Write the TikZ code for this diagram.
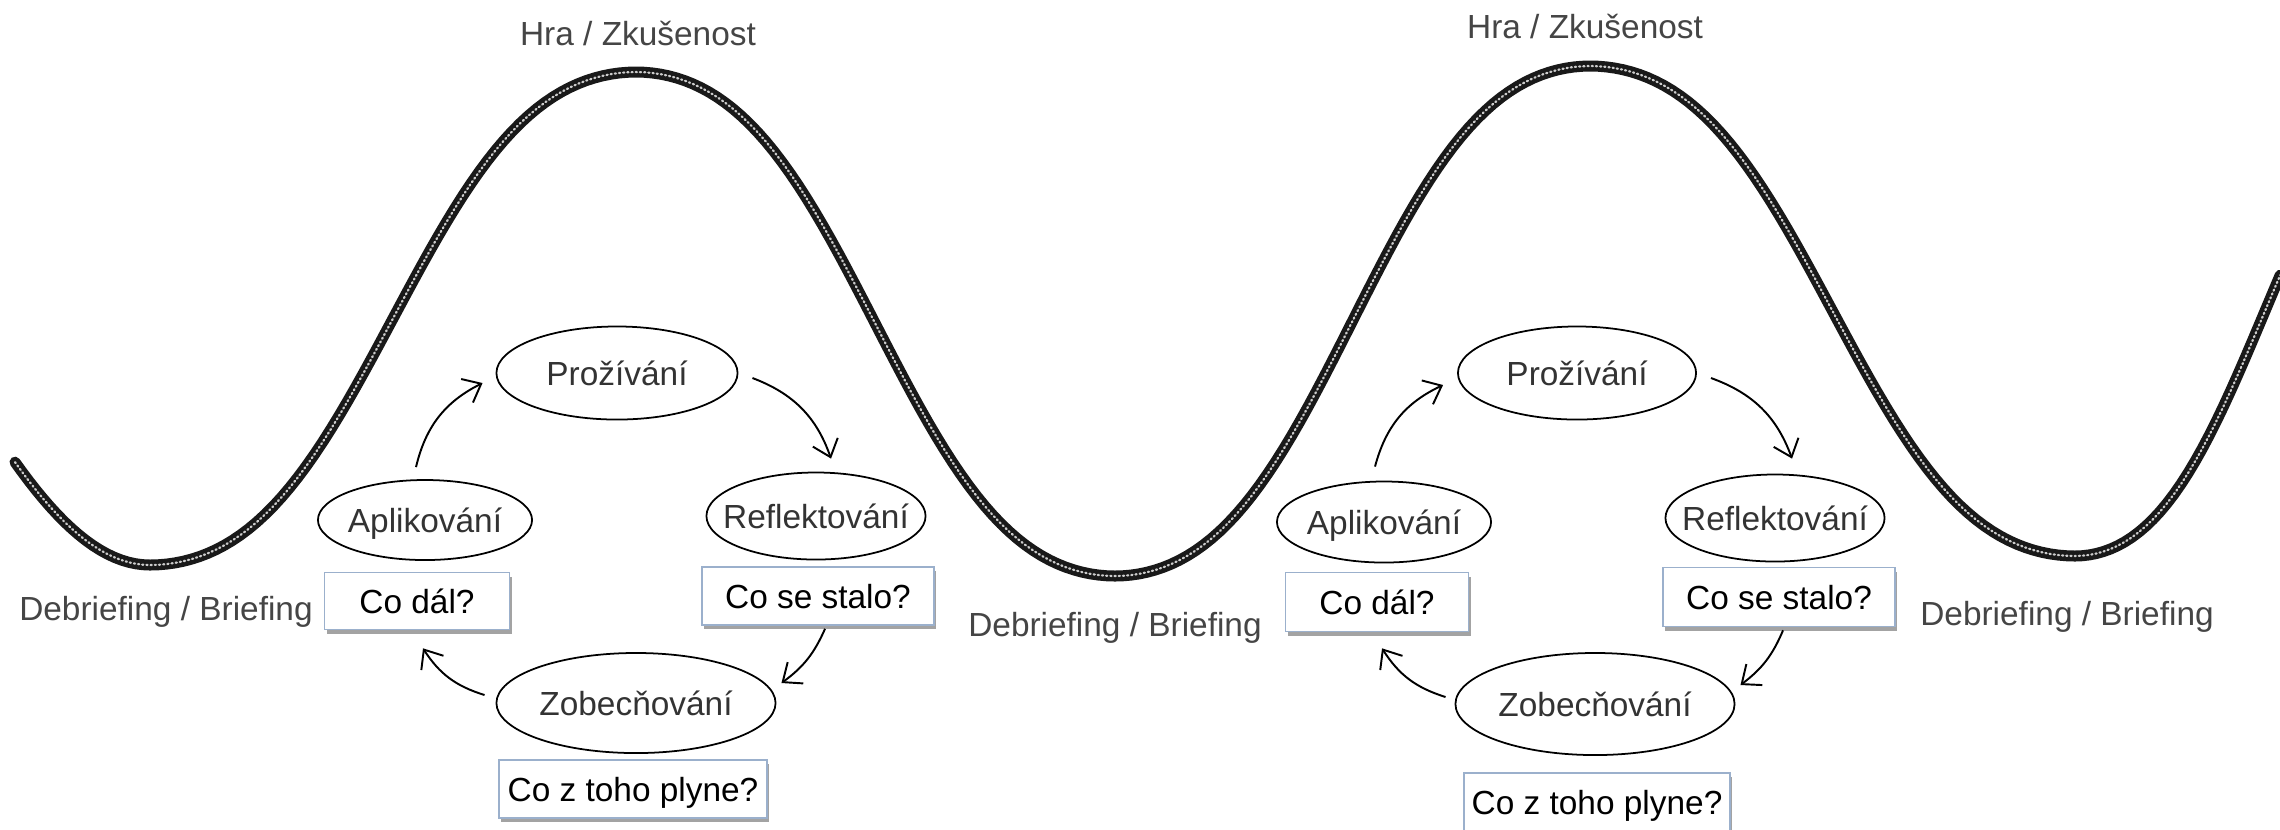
\documentclass[tikz,border=0pt]{standalone}
\usepackage{fontspec}
\setmainfont{Liberation Sans}
\usetikzlibrary{arrows.meta,shadows,shapes.geometric}
\definecolor{lblgray}{HTML}{454545}
\definecolor{etxt}{HTML}{333333}
\definecolor{boxline}{HTML}{9BB0CC}
\begin{document}
\begin{tikzpicture}[x=0.01cm,y=-0.01cm,
  every node/.style={font=\fontsize{9.5}{11}\selectfont, inner sep=0pt},
  stage/.style={ellipse, draw=black, line width=0.5pt, text=etxt, text height=0.716em, text depth=0pt},
  qbox/.style={rectangle, draw=boxline, line width=0.45pt, fill=white, text=black,
     text height=0.716em, text depth=0pt,
     drop shadow={shadow xshift=0.6pt, shadow yshift=-1.2pt, fill=black!60, opacity=0.6}},
  lbl/.style={text=lblgray, anchor=base},
  cyc/.style={-{Straight Barb[length=4.5pt,width=7.5pt]}, line width=0.55pt},
  rope/.style={line width=0.11cm, black!90, line cap=round, line join=round,
     postaction={draw, white!80!black, line width=0.022cm, dash pattern=on 0.012cm off 0.03cm}}
]
\useasboundingbox (0,0) rectangle (2280,829);

% wave: half-waves joined at their extrema
\draw[rope]
  plot[domain=0.698:1, samples=20, variable=\t] ({150-447+\t*447}, {318.5-246.5*cos(180*\t)})
  -- plot[domain=0:1, samples=60, variable=\t] ({150+\t*486}, {318.5+246.5*(1.04375*cos(180*\t)-0.04375*cos(540*\t))})
  -- plot[domain=0:1, samples=60, variable=\t] ({636+\t*479}, {324-252*(1.04375*cos(180*\t)-0.04375*cos(540*\t))})
  -- plot[domain=0:1, samples=60, variable=\t] ({1115+\t*475}, {321+255*(1.04375*cos(180*\t)-0.04375*cos(540*\t))})
  -- plot[domain=0:1, samples=60, variable=\t] ({1590+\t*485}, {311-245*(1.04375*cos(180*\t)-0.04375*cos(540*\t))})
  -- plot[domain=0:0.54, samples=30, variable=\t] ({2075+\t*380}, {311+245*(1.04375*cos(180*\t)-0.04375*cos(540*\t))});

% labels
\node[lbl] (hra1) at (638,45) {Hra / Zkušenost};
\node[lbl] (hra2) at (1585,38) {Hra / Zkušenost};
\node[lbl] (db1) at (166,620) {Debriefing / Briefing};
\node[lbl] (db2) at (1115,636) {Debriefing / Briefing};
\node[lbl] (db3) at (2067,625) {Debriefing / Briefing};

% left cycle
\node[stage, minimum width=2.41cm, minimum height=0.93cm] (pro1) at (617,373) {\makebox[0pt]{Prožívání}};
\node[stage, minimum width=2.19cm, minimum height=0.87cm] (ref1) at (816,516) {\makebox[0pt]{Reflektování}};
\node[stage, minimum width=2.79cm, minimum height=1.00cm] (zob1) at (636,703) {\makebox[0pt]{Zobecňování}};
\node[stage, minimum width=2.14cm, minimum height=0.80cm] (apl1) at (425,520) {\makebox[0pt]{Aplikování}};
\node[qbox, minimum width=2.32cm, minimum height=0.58cm] (cse1) at (818,596) {Co se stalo?};
\node[qbox, minimum width=1.85cm, minimum height=0.57cm] (cd1) at (417,601) {Co dál?};
\node[qbox, minimum width=2.68cm, minimum height=0.58cm] (czt1) at (633,789) {Co z toho plyne?};

\draw[cyc] ([shift={(-0.09cm,0.12cm)}]apl1.north) to[bend left=25] ([shift={(-0.13cm,-0.10cm)}]pro1.west);
\draw[cyc] ([shift={(0.14cm,-0.05cm)}]pro1.east) to[bend left=25] ([shift={(0.15cm,0.13cm)}]ref1.north);
\draw[cyc] ([shift={(0.07cm,-0.03cm)}]cse1.south) to[bend left=15] ([shift={(0.05cm,0.20cm)}]zob1.east);
\draw[cyc] ([shift={(-0.11cm,0.08cm)}]zob1.west) to[bend left=20] ([shift={(0.06cm,-0.18cm)}]cd1.south);

% right cycle
\node[stage, minimum width=2.38cm, minimum height=0.93cm] (pro2) at (1577,373) {\makebox[0pt]{Prožívání}};
\node[stage, minimum width=2.19cm, minimum height=0.87cm] (ref2) at (1775,518) {\makebox[0pt]{Reflektování}};
\node[stage, minimum width=2.79cm, minimum height=1.02cm] (zob2) at (1595,704) {\makebox[0pt]{Zobecňování}};
\node[stage, minimum width=2.14cm, minimum height=0.81cm] (apl2) at (1384,522) {\makebox[0pt]{Aplikování}};
\node[qbox, minimum width=2.32cm, minimum height=0.59cm] (cse2) at (1779,597) {Co se stalo?};
\node[qbox, minimum width=1.83cm, minimum height=0.59cm] (cd2) at (1377,602) {Co dál?};
\node[qbox, minimum width=2.66cm, minimum height=0.58cm] (czt2) at (1597,802) {Co z toho plyne?};

\draw[cyc] ([shift={(-0.09cm,0.14cm)}]apl2.north) to[bend left=25] ([shift={(-0.14cm,-0.12cm)}]pro2.west);
\draw[cyc] ([shift={(0.14cm,-0.05cm)}]pro2.east) to[bend left=25] ([shift={(0.17cm,0.15cm)}]ref2.north);
\draw[cyc] ([shift={(0.04cm,-0.03cm)}]cse2.south) to[bend left=15] ([shift={(0.05cm,0.19cm)}]zob2.east);
\draw[cyc] ([shift={(-0.09cm,0.07cm)}]zob2.west) to[bend left=20] ([shift={(0.05cm,-0.16cm)}]cd2.south);
\end{tikzpicture}
\end{document}
